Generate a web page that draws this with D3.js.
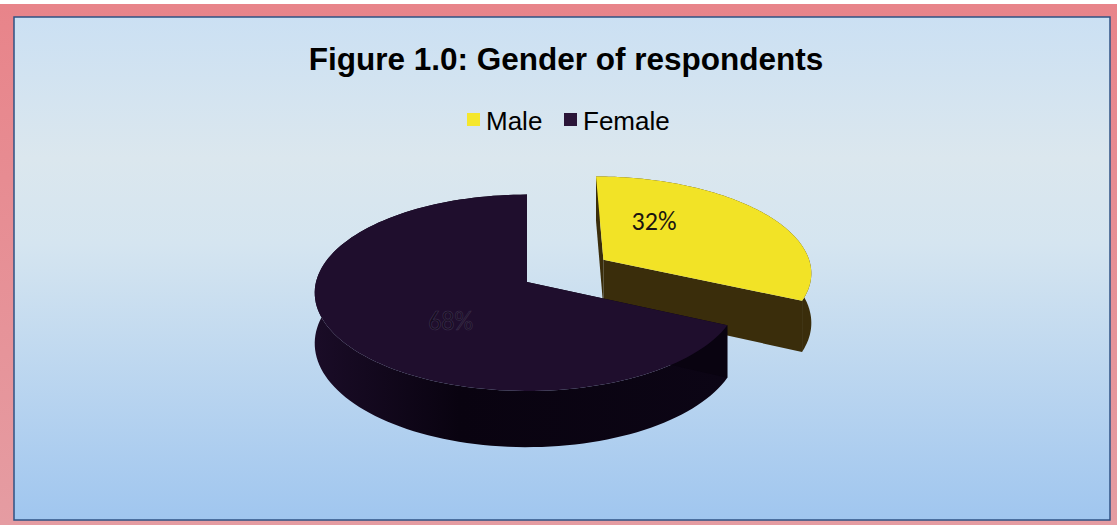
<!DOCTYPE html>
<html>
<head>
<meta charset="utf-8">
<script src="https://cdn.jsdelivr.net/npm/d3@7"></script>
<style>
html,body{margin:0;padding:0;background:#fff;}
svg{display:block;}
</style>
</head>
<body>
<svg id="chart" width="1117" height="525"></svg>
<script>
// ---- data ----
const categories = ["Male", "Female"];
const values = [32, 68];
const labels = ["32%", "68%"];
const topColors = ["#f2e326", "#1f0e2d"];
const sideColors = ["#3a2d0b", "#090310"];
const legendColors = ["#f5e72c", "#2a1538"];
const titleText = "Figure 1.0: Gender of respondents";

const W = 1117, H = 525;
const svg = d3.select("#chart");
const defs = svg.append("defs");

// background gradient
const bg = defs.append("linearGradient").attr("id", "bg").attr("x1", 0).attr("y1", 0).attr("x2", 0).attr("y2", 1);
[["0%", "#cbe0f3"], ["28%", "#dbe7ee"], ["45%", "#d5e5f0"], ["100%", "#a0c6ef"]]
  .forEach(([o, c]) => bg.append("stop").attr("offset", o).attr("stop-color", c));

const fr = defs.append("linearGradient").attr("id", "frame").attr("x1", 0).attr("y1", 0).attr("x2", 0).attr("y2", 1);
[["0%", "#e8848a"], ["100%", "#e59ca2"]].forEach(([o, c]) => fr.append("stop").attr("offset", o).attr("stop-color", c));

const sideGrad = defs.append("linearGradient").attr("id", "fside").attr("x1", 0).attr("y1", 0).attr("x2", 1).attr("y2", 0);
[["0%", "#1a0c27"], ["35%", "#090310"], ["100%", "#0c0515"]].forEach(([o, c]) => sideGrad.append("stop").attr("offset", o).attr("stop-color", c));

svg.append("rect").attr("x", 0).attr("y", 4).attr("width", W).attr("height", H - 4).attr("fill", "url(#frame)");
svg.append("rect").attr("x", 14).attr("y", 17).attr("width", 1096).attr("height", 503)
  .attr("fill", "url(#bg)").attr("stroke", "#2f5284").attr("stroke-width", 1.5);

// title
svg.append("text").attr("x", 566).attr("y", 70).attr("text-anchor", "middle")
  .attr("font-family", "Liberation Sans, Arial, sans-serif").attr("font-weight", "bold")
  .attr("font-size", 31.5).attr("fill", "#000").text(titleText);

// legend
const legend = svg.append("g").attr("font-family", "Liberation Sans, Arial, sans-serif").attr("font-size", 26);
const legX = d3.scaleOrdinal().domain(categories).range([467, 564]);
categories.forEach((c, i) => {
  legend.append("rect").attr("x", legX(c)).attr("y", 113).attr("width", 13).attr("height", 13).attr("fill", legendColors[i]);
  legend.append("text").attr("x", legX(c) + 19).attr("y", 130).attr("fill", "#000").text(c);
});

// ---- 3D pie with perspective ----
const cx = 527, cy = 282, A = 211, B = 97, k = 0.11, C = 50, explode = 0.44;
function proj(u, v, h) {
  const w = 1 + k * v;
  return [cx + A * u / w, cy - (B * v + C * h) / w];
}
const pie = d3.pie().sort(null).value(d => d).startAngle(0).endAngle(2 * Math.PI);
const arcs = pie(values);
const line = d3.line();

function offsets(i) {
  const a = arcs[i];
  const mid = (a.startAngle + a.endAngle) / 2;
  const e = i === 0 ? explode : 0;
  return [e * Math.sin(mid), e * Math.cos(mid)];
}
function rim(a0, a1, du, dv, h, n) {
  const pts = [];
  for (let j = 0; j <= n; j++) {
    const t = a0 + (a1 - a0) * j / n;
    pts.push(proj(Math.sin(t) + du, Math.cos(t) + dv, h));
  }
  return pts;
}

function drawSlice(i) {
  const a = arcs[i];
  const [du, dv] = offsets(i);
  const g = svg.append("g");
  const n = 120;
  const sideFill = i === 1 ? "url(#fside)" : sideColors[i];
  // outer side
  const topRim = rim(a.startAngle, a.endAngle, du, dv, 0, n);
  const botRim = rim(a.startAngle, a.endAngle, du, dv, -1, n).reverse();
  g.append("path").attr("d", line(topRim.concat(botRim)) + "Z").attr("fill", sideFill);
  // radial walls
  [a.startAngle, a.endAngle].forEach(t => {
    const pts = [proj(du, dv, 0), proj(Math.sin(t) + du, Math.cos(t) + dv, 0),
                 proj(Math.sin(t) + du, Math.cos(t) + dv, -1), proj(du, dv, -1)];
    g.append("path").attr("d", line(pts) + "Z").attr("fill", sideColors[i]);
  });
  // top
  const top = [proj(du, dv, 0)].concat(rim(a.startAngle, a.endAngle, du, dv, 0, n));
  g.append("path").attr("d", line(top) + "Z").attr("fill", topColors[i]);
}
// male is farther back: draw first
drawSlice(0);
drawSlice(1);

// labels
const labelPos = [[32, 0.52], [221.8, 0.52]];
arcs.forEach((a, i) => {
  const [du, dv] = offsets(i);
  const t = labelPos[i][0] * Math.PI / 180, r = labelPos[i][1];
  const [x, y] = proj(r * Math.sin(t) + du, r * Math.cos(t) + dv, 0);
  svg.append("text").attr("x", x).attr("y", y).attr("text-anchor", "middle")
    .attr("dominant-baseline", "central")
    .attr("font-family", "Carlito, Lato, Liberation Sans, sans-serif").attr("font-size", 26)
    .attr("fill", i === 0 ? "#1a1510" : "#150b1f")
    .attr("stroke", i === 0 ? "none" : "#3a2c4a").attr("stroke-width", 0.7)
    .text(labels[i]);
});
</script>
</body>
</html>
